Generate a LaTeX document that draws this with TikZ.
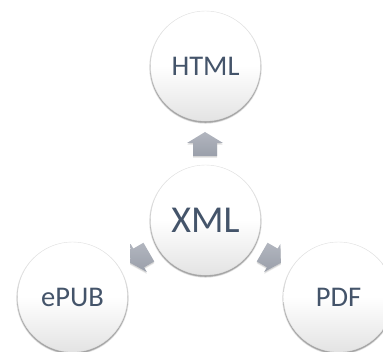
\documentclass[tikz,border=0pt]{standalone}
\usepackage{fontspec}
\setmainfont{Carlito}
\usetikzlibrary{calc}
\definecolor{ink}{HTML}{44546A}
\definecolor{disclow}{HTML}{E3E3E3}
\definecolor{discedge}{HTML}{E2E2E2}
\definecolor{arrowhi}{HTML}{B2B6BF}
\definecolor{arrowlo}{HTML}{9A9FAA}
\tikzset{
  disc/.style={circle,minimum size=110pt,inner sep=0pt,draw=discedge,line width=0.4pt,
    top color=white,bottom color=disclow,middle color=white,text=ink,font=\fontsize{28.5pt}{30pt}\selectfont},
  bigdisc/.style={disc,font=\fontsize{38pt}{40pt}\selectfont},
}
\newcommand{\rimshadow}[2]{%
  \foreach \r/\c in {56.4/.07,55.9/.12,55.4/.2}{
    \fill[black,opacity=\c] ($(#1,#2)+(0,1.4)$) circle[radius=\r];
  }%
}
\newcommand{\arrowoutline}{(0,-12) -- (18,-1) -- (12,-1) -- (12,12) -- (-12,12) -- (-12,-1) -- (-18,-1) -- cycle}
\newcommand{\blockhead}[4]{%
  \foreach \o/\c in {2.0/.07,1.2/.10}{
    \begin{scope}[shift={(#1,{#2+\o})},rotate=#3,scale=#4]
      \fill[black,opacity=\c] \arrowoutline;
    \end{scope}
  }%
  \begin{scope}[shift={(#1,#2)},rotate=#3,scale=#4]
    \shade[top color=arrowhi,bottom color=arrowlo] \arrowoutline;
  \end{scope}%
}
\begin{document}
\begin{tikzpicture}[x=1pt,y=-1pt]
\useasboundingbox (0,0) rectangle (383,352);
\clip (0,0) rectangle (383,352);
\rimshadow{205.5}{66}
\rimshadow{205.5}{220}
\rimshadow{72.5}{297}
\rimshadow{338.5}{297}
\node[disc] (html) at (205.5,66) {HTML};
\node[bigdisc] (xml) at (205.5,220) {XML};
\node[disc] (epub) at (72.5,297) {ePUB};
\node[disc] (pdf) at (338.5,297) {PDF};
\blockhead{205}{144}{0}{1}
\blockhead{139.5}{257.5}{120}{0.9}
\blockhead{271.5}{257.5}{-120}{0.9}
\end{tikzpicture}
\end{document}
